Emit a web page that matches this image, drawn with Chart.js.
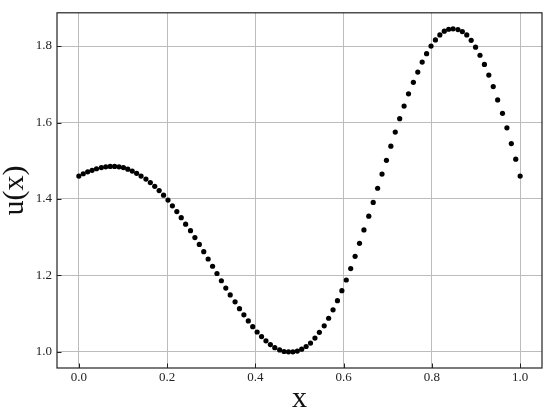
<!DOCTYPE html>
<html>
<head>
<meta charset="utf-8">
<script src="https://cdn.jsdelivr.net/npm/chart.js@4/dist/chart.umd.min.js"></script>
<style>
  html, body { margin: 0; padding: 0; background: #fff; }
  #wrap { width: 550px; height: 414px; }
</style>
</head>
<body>
<div id="wrap"><canvas id="uChart" width="550" height="414"></canvas></div>
<script>
  // sample positions (100 points from 0 to 1)
  const xValues = [
    0.000, 0.010, 0.020, 0.030, 0.040, 0.051, 0.061, 0.071, 0.081, 0.091,
    0.101, 0.111, 0.121, 0.131, 0.141, 0.152, 0.162, 0.172, 0.182, 0.192,
    0.202, 0.212, 0.222, 0.232, 0.242, 0.253, 0.263, 0.273, 0.283, 0.293,
    0.303, 0.313, 0.323, 0.333, 0.343, 0.354, 0.364, 0.374, 0.384, 0.394,
    0.404, 0.414, 0.424, 0.434, 0.444, 0.455, 0.465, 0.475, 0.485, 0.495,
    0.505, 0.515, 0.525, 0.535, 0.545, 0.556, 0.566, 0.576, 0.586, 0.596,
    0.606, 0.616, 0.626, 0.636, 0.646, 0.657, 0.667, 0.677, 0.687, 0.697,
    0.707, 0.717, 0.727, 0.737, 0.747, 0.758, 0.768, 0.778, 0.788, 0.798,
    0.808, 0.818, 0.828, 0.838, 0.848, 0.859, 0.869, 0.879, 0.889, 0.899,
    0.909, 0.919, 0.929, 0.939, 0.949, 0.960, 0.970, 0.980, 0.990, 1.000
  ];

  // u(x)
  const uValues = [
    1.460, 1.466, 1.471, 1.475, 1.479, 1.482, 1.484, 1.485, 1.485, 1.484,
    1.482, 1.478, 1.473, 1.467, 1.460, 1.452, 1.443, 1.433, 1.422, 1.410,
    1.397, 1.382, 1.367, 1.351, 1.334, 1.317, 1.299, 1.281, 1.262, 1.243,
    1.224, 1.205, 1.186, 1.167, 1.149, 1.131, 1.113, 1.097, 1.081, 1.066,
    1.052, 1.040, 1.029, 1.019, 1.011, 1.005, 1.001, 1.000, 1.000, 1.002,
    1.007, 1.014, 1.023, 1.036, 1.051, 1.068, 1.088, 1.110, 1.134, 1.160,
    1.188, 1.218, 1.250, 1.284, 1.319, 1.355, 1.391, 1.428, 1.465, 1.501,
    1.538, 1.575, 1.610, 1.643, 1.675, 1.705, 1.732, 1.758, 1.780, 1.800,
    1.816, 1.829, 1.839, 1.844, 1.845, 1.843, 1.838, 1.829, 1.815, 1.797,
    1.776, 1.752, 1.724, 1.694, 1.659, 1.624, 1.586, 1.545, 1.504, 1.460
  ];

  const xTicks = [0.0, 0.2, 0.4, 0.6, 0.8, 1.0];
  const yTicks = [1.0, 1.2, 1.4, 1.6, 1.8];

  const serif = "'Liberation Serif', 'Times New Roman', 'DejaVu Serif', serif";

  // frame + inward tick marks, like the matplotlib original
  const framePlugin = {
    id: 'frame',
    afterDraw(chart) {
      const { ctx, chartArea: a, scales } = chart;
      ctx.save();
      ctx.strokeStyle = '#222';
      ctx.lineWidth = 1;
      ctx.beginPath();
      xTicks.forEach(v => {
        const px = Math.round(scales.x.getPixelForValue(v)) + 0.5;
        ctx.moveTo(px, a.bottom);
        ctx.lineTo(px, a.bottom - 4.5);
      });
      yTicks.forEach(v => {
        const py = Math.round(scales.y.getPixelForValue(v)) + 0.5;
        ctx.moveTo(a.left, py);
        ctx.lineTo(a.left + 4.5, py);
      });
      ctx.stroke();
      ctx.lineWidth = 1.2;
      ctx.strokeRect(a.left, a.top, a.right - a.left, a.bottom - a.top);
      ctx.restore();
    }
  };

  const points = xValues.map((x, i) => ({ x: x, y: uValues[i] }));

  const ctx = document.getElementById('uChart').getContext('2d');
  const uChart = new Chart(ctx, {
    type: 'scatter',
    data: {
      datasets: [{
        label: 'u(x)',
        data: points,
        pointRadius: 2.6,
        pointBackgroundColor: '#000',
        pointBorderWidth: 0,
        pointHoverRadius: 2.6
      }]
    },
    options: {
      responsive: false,
      animation: false,
      layout: { padding: { top: 6, right: 8, left: 0, bottom: 0 } },
      plugins: {
        legend: { display: false },
        tooltip: { enabled: false }
      },
      scales: {
        x: {
          type: 'linear',
          min: -0.0495,
          max: 1.0495,
          afterFit: (scale) => { scale.height = 46; },
          afterBuildTicks: (scale) => { scale.ticks = xTicks.map(v => ({ value: v })); },
          grid: { color: '#bcbcbc', lineWidth: 1, drawTicks: false },
          border: { display: false },
          ticks: {
            padding: 2,
            color: '#222',
            font: { family: serif, size: 13 },
            callback: (v) => Number(v).toFixed(1)
          },
          title: {
            display: true,
            text: 'x',
            color: '#111',
            padding: 0,
            font: { family: serif, size: 30, lineHeight: 1.0 }
          }
        },
        y: {
          type: 'linear',
          min: 0.9578,
          max: 1.887,
          afterFit: (scale) => { scale.width = 57; },
          afterBuildTicks: (scale) => { scale.ticks = yTicks.map(v => ({ value: v })); },
          grid: { color: '#bcbcbc', lineWidth: 1, drawTicks: false },
          border: { display: false },
          ticks: {
            padding: 5,
            color: '#222',
            font: { family: serif, size: 13 },
            callback: (v) => Number(v).toFixed(1)
          },
          title: {
            display: true,
            text: 'u(x)',
            color: '#111',
            padding: 0,
            font: { family: serif, size: 30, lineHeight: 1.0 }
          }
        }
      }
    },
    plugins: [framePlugin]
  });
</script>
</body>
</html>
